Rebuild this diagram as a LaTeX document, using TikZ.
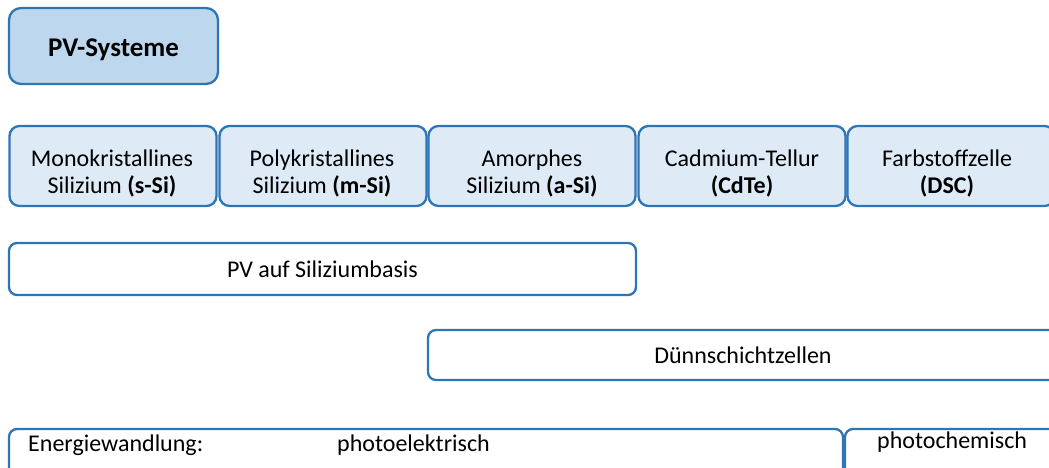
\documentclass[tikz,border=0pt]{standalone}
\usepackage{fontspec}
\setmainfont{Carlito}
\definecolor{edgeblue}{RGB}{46,117,182}
\definecolor{headfill}{RGB}{189,215,238}
\definecolor{cellfill}{RGB}{222,235,247}
\begin{document}
\begin{tikzpicture}[x=1pt,y=-1pt,
  base/.style={draw=edgeblue, line width=2.3pt, rounded corners=10pt, inner sep=0pt,
    font=\fontsize{24}{28}\selectfont},
  headbox/.style={base, fill=headfill, rounded corners=12pt,
    font=\fontsize{27}{30}\selectfont\bfseries, text height=22pt, text depth=0pt},
  cellbox/.style={base, fill=cellfill, minimum width=207pt, minimum height=80pt},
  bandbox/.style={base, fill=white, rounded corners=8pt},
  celltext/.style={font=\fontsize{24}{27}\selectfont, inner sep=0pt, anchor=base},
  lbl/.style={font=\fontsize{24}{28}\selectfont, inner sep=0pt}]
\useasboundingbox (0,0) rectangle (1049,468);
\clip (0,0) rectangle (1049,468);

% title
\node[headbox, minimum width=209pt, minimum height=76pt] (head) at (113.5,46) {PV-Systeme};

% cell technologies
\node[cellbox] (mono) at (113,166) {};
\node[cellbox] (poly) at (323,166) {};
\node[cellbox] (amor) at (532,166) {};
\node[cellbox] (cdte) at (742,166) {};
\node[cellbox] (dsc)  at (951,166) {};

\node[celltext] (monoA) at (112,166) {Monokristallines};
\node[celltext] (monoB) at (112,193) {Silizium \textbf{(s-Si)}};
\node[celltext] (polyA) at (322,166) {Polykristallines};
\node[celltext] (polyB) at (322,193) {Silizium \textbf{(m-Si)}};
\node[celltext] (amorA) at (532,166) {Amorphes};
\node[celltext] (amorB) at (532,193) {Silizium \textbf{(a-Si)}};
\node[celltext] (cdteA) at (742,166) {Cadmium-Tellur};
\node[celltext] (cdteB) at (742,193) {\textbf{(CdTe)}};
\node[celltext] (dscA)  at (947,166) {Farbstoffzelle};
\node[celltext] (dscB)  at (947,193) {\textbf{(DSC)}};

% groupings
\node[bandbox, minimum width=627pt, minimum height=52pt, text height=17.5pt, text depth=0pt]
  (sibase) at (322.5,269) {PV auf Siliziumbasis};
\node[bandbox, minimum width=630pt, minimum height=50pt, text height=16.6pt, text depth=0pt]
  (thin) at (743,355) {Dünnschichtzellen};

% energy conversion
\node[bandbox, minimum width=834pt, minimum height=80pt] (elec) at (426,469) {};
\node[bandbox, minimum width=212pt, minimum height=80pt] (chem) at (951,469) {};
\node[lbl, anchor=base west] (ew) at (28,451) {Energiewandlung:};
\node[lbl, anchor=base west] (pe) at (337,451) {photoelektrisch};
\node[lbl, anchor=base west] (pc) at (877,448) {photochemisch};
\end{tikzpicture}
\end{document}
